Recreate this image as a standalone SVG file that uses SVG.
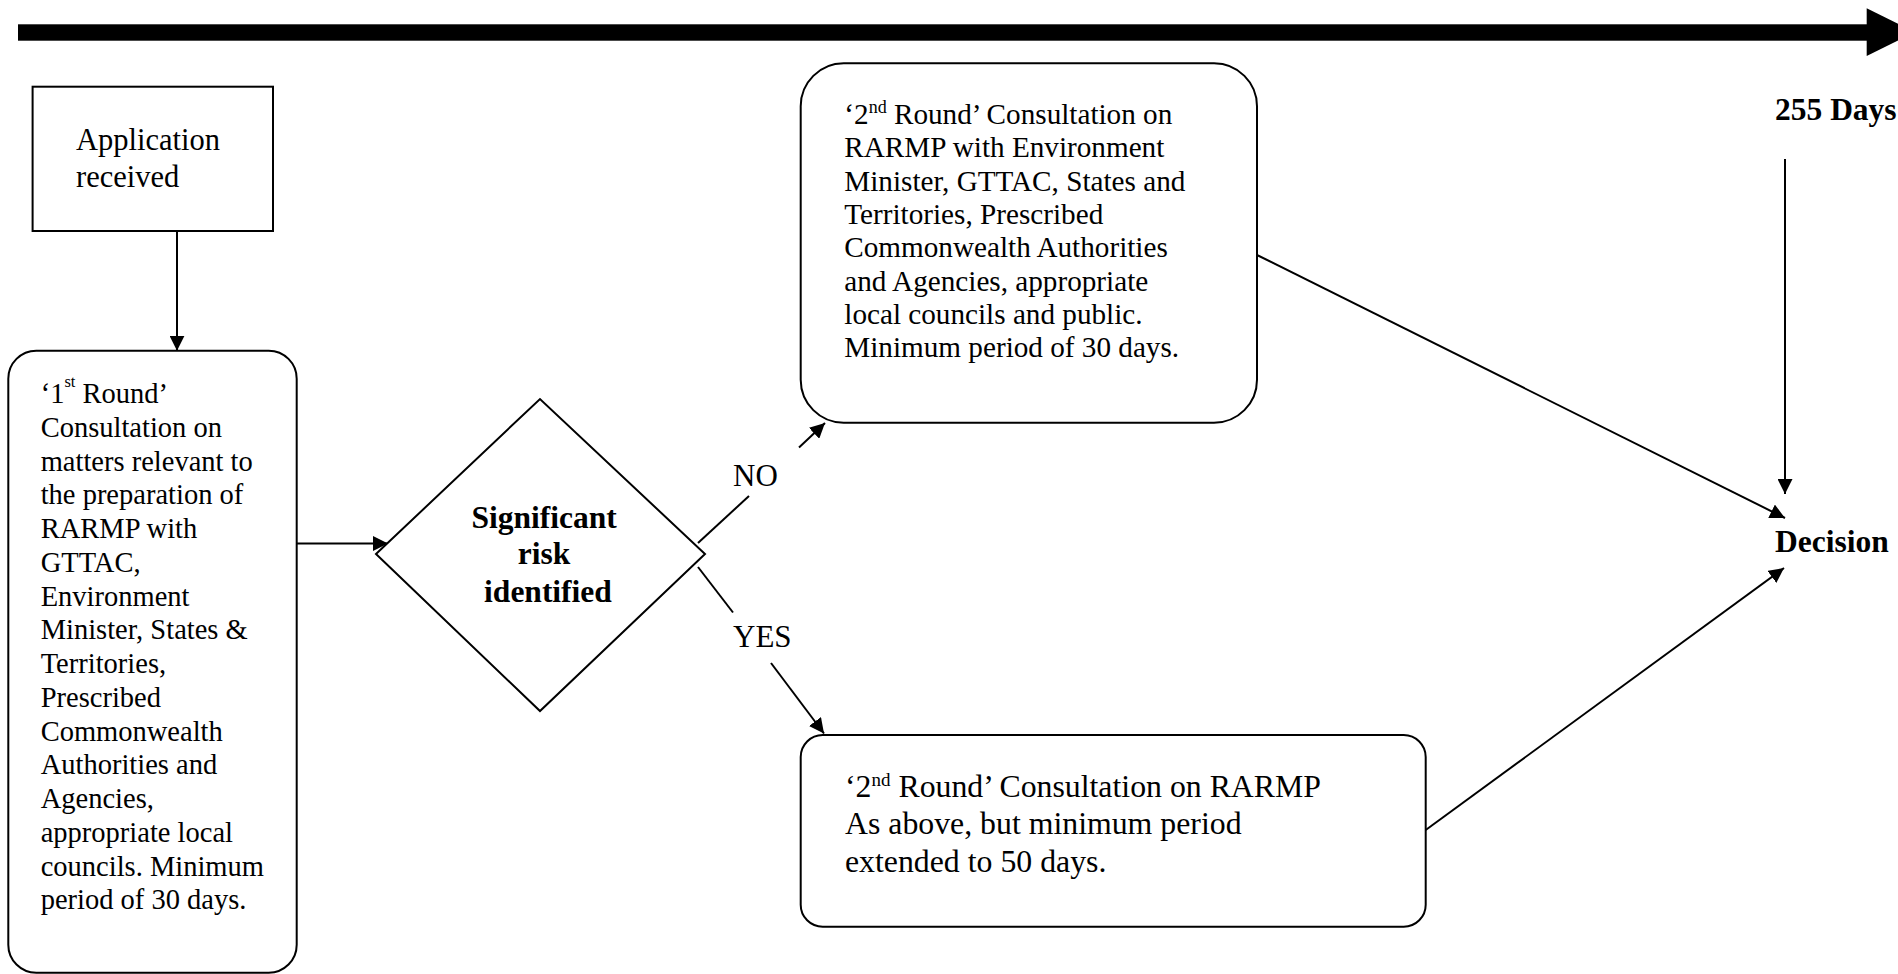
<svg xmlns="http://www.w3.org/2000/svg" width="1898" height="974" viewBox="0 0 1898 974">
  <style>
    .box { fill: #ffffff; stroke: #000000; stroke-width: 2; }
    .edge { fill: none; stroke: #000000; stroke-width: 2; }
    .txt { font-family: "Liberation Serif", "Times New Roman", serif; fill: #000000; }
    .bold { font-weight: bold; }
  </style>
  <defs>
    <marker id="head" viewBox="0 0 15 15" refX="15" refY="7.5" markerWidth="15" markerHeight="15" markerUnits="userSpaceOnUse" orient="auto">
      <path d="M0,0 L15,7.5 L0,15 Z" fill="#000000"/>
    </marker>
  </defs>

  <!-- timeline bar across the top -->
  <g id="timeline">
    <rect x="18" y="24.3" width="1850" height="16.4" fill="#000000"/>
    <polygon points="1866.7,8.3 1866.7,56 1915,32.2" fill="#000000"/>
  </g>

  <!-- connectors -->
  <g id="connectors">
    <line class="edge" x1="177" y1="231" x2="177" y2="350.7" marker-end="url(#head)"/>
    <line class="edge" x1="296.7" y1="543.5" x2="388" y2="543.5" marker-end="url(#head)"/>
    <line class="edge" x1="698" y1="543" x2="749" y2="496"/>
    <line class="edge" x1="799" y1="447.5" x2="825" y2="423" marker-end="url(#head)"/>
    <line class="edge" x1="698" y1="567" x2="733" y2="612.5"/>
    <line class="edge" x1="771" y1="663" x2="824" y2="733.5" marker-end="url(#head)"/>
    <line class="edge" x1="1257" y1="255" x2="1785" y2="518" marker-end="url(#head)"/>
    <line class="edge" x1="1785" y1="159" x2="1785" y2="494" marker-end="url(#head)"/>
    <line class="edge" x1="1425.7" y1="830" x2="1784" y2="568" marker-end="url(#head)"/>
  </g>

  <g id="application-received">
    <rect class="box" x="32.6" y="86.7" width="240.4" height="144.3"/>
    <text class="txt" font-size="30.5" x="76" y="150">Application</text>
    <text class="txt" font-size="30.5" x="76" y="187">received</text>
  </g>

  <g id="first-round">
    <rect class="box" x="8.3" y="350.7" width="288.4" height="622" rx="28" ry="28"/>
    <text class="txt" font-size="28.5">
      <tspan x="40.7" y="403">‘1<tspan font-size="16.5" dy="-16">st</tspan><tspan dy="16"> Round’</tspan></tspan>
      <tspan x="40.7" y="436.8">Consultation on</tspan>
      <tspan x="40.7" y="470.5">matters relevant to</tspan>
      <tspan x="40.7" y="504.3">the preparation of</tspan>
      <tspan x="40.7" y="538">RARMP with</tspan>
      <tspan x="40.7" y="571.8">GTTAC,</tspan>
      <tspan x="40.7" y="605.5">Environment</tspan>
      <tspan x="40.7" y="639.3">Minister, States &amp;</tspan>
      <tspan x="40.7" y="673">Territories,</tspan>
      <tspan x="40.7" y="706.8">Prescribed</tspan>
      <tspan x="40.7" y="740.5">Commonwealth</tspan>
      <tspan x="40.7" y="774.3">Authorities and</tspan>
      <tspan x="40.7" y="808">Agencies,</tspan>
      <tspan x="40.7" y="841.8">appropriate local</tspan>
      <tspan x="40.7" y="875.5">councils. Minimum</tspan>
      <tspan x="40.7" y="909.3">period of 30 days.</tspan>
    </text>
  </g>

  <g id="significant-risk">
    <polygon class="box" points="376,554 540,399 705,554 540,711"/>
    <text class="txt bold" font-size="31.5" text-anchor="middle">
      <tspan x="548" y="528.3">Significant</tspan>
      <tspan x="548" y="564.3">risk</tspan>
      <tspan x="548" y="601.7">identified</tspan>
    </text>
  </g>

  <g id="label-no">
    <text class="txt" font-size="31" x="733" y="486">NO</text>
  </g>
  <g id="label-yes">
    <text class="txt" font-size="31" x="733" y="647">YES</text>
  </g>

  <g id="second-round-standard">
    <rect class="box" x="800.7" y="63.3" width="456.3" height="359.4" rx="43" ry="43"/>
    <text class="txt" font-size="29.2">
      <tspan x="844.3" y="124">‘2<tspan font-size="18" dy="-11">nd</tspan><tspan dy="11"> Round’ Consultation on</tspan></tspan>
      <tspan x="844.3" y="157.3">RARMP with Environment</tspan>
      <tspan x="844.3" y="190.7">Minister, GTTAC, States and</tspan>
      <tspan x="844.3" y="224">Territories, Prescribed</tspan>
      <tspan x="844.3" y="257.3">Commonwealth Authorities</tspan>
      <tspan x="844.3" y="290.7">and Agencies, appropriate</tspan>
      <tspan x="844.3" y="324">local councils and public.</tspan>
      <tspan x="844.3" y="357.3">Minimum period of 30 days.</tspan>
    </text>
  </g>

  <g id="second-round-extended">
    <rect class="box" x="800.7" y="735" width="625" height="191.7" rx="22" ry="22"/>
    <text class="txt" font-size="31.8">
      <tspan x="845" y="797.3">‘2<tspan font-size="19" dy="-11.5">nd</tspan><tspan dy="11.5"> Round’ Consultation on RARMP</tspan></tspan>
      <tspan x="845" y="834">As above, but minimum period</tspan>
      <tspan x="845" y="871.5">extended to 50 days.</tspan>
    </text>
  </g>

  <g id="deadline">
    <text class="txt bold" font-size="31.5" x="1775" y="120">255 Days</text>
  </g>

  <g id="decision">
    <text class="txt bold" font-size="31.5" x="1775" y="552">Decision</text>
  </g>
</svg>
